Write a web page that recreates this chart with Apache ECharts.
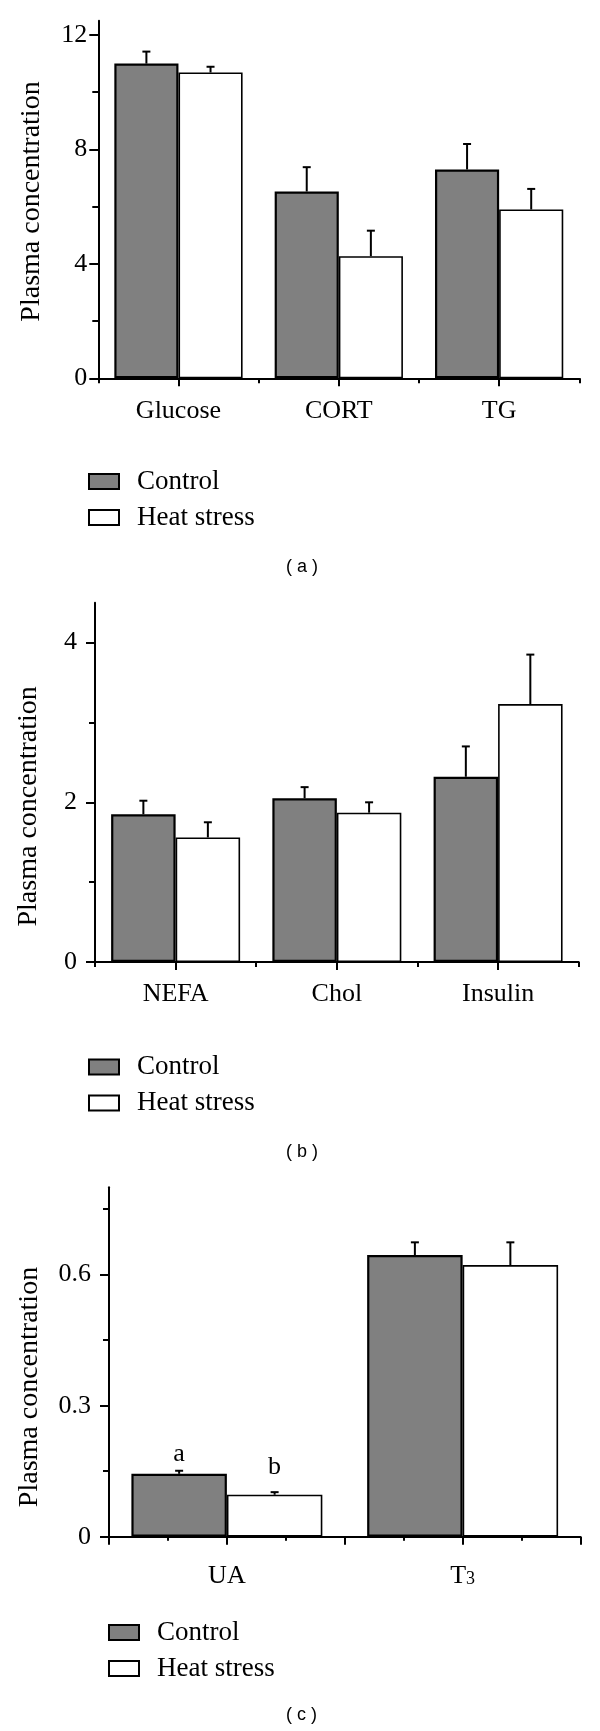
<!DOCTYPE html>
<html>
<head>
<meta charset="utf-8">
<script src="https://cdn.jsdelivr.net/npm/echarts@6/dist/echarts.min.js"></script>
<style>
html,body{margin:0;padding:0;background:#fff;}
#chart{width:600px;height:1731px;}
</style>
</head>
<body>
<div id="chart"></div>
<script>
// ---------- data ----------
const seriesNames = ['Control', 'Heat stress'];

const catsA = ['Glucose', 'CORT', 'TG'];
const controlA = [11.0, 6.53, 7.30];
const controlErrA = [0.42, 0.85, 0.89];
const heatA = [10.69, 4.27, 5.90];
const heatErrA = [0.20, 0.89, 0.72];
const yTicksA = [0, 4, 8, 12];
const yMinorA = [2, 6, 10];

const catsB = ['NEFA', 'Chol', 'Insulin'];
const controlB = [1.85, 2.05, 2.32];
const controlErrB = [0.17, 0.14, 0.38];
const heatB = [1.56, 1.87, 3.23];
const heatErrB = [0.19, 0.13, 0.62];
const yTicksB = [0, 2, 4];
const yMinorB = [1, 3];

const catsC = ['UA', 'T3'];
const controlC = [0.144, 0.645];
const controlErrC = [0.007, 0.029];
const heatC = [0.096, 0.622];
const heatErrC = [0.006, 0.052];
const sigControlC = ['a', ''];
const sigHeatC = ['b', ''];
const yTicksC = [0, 0.3, 0.6];
const yMinorC = [0.15, 0.45, 0.75];

const captions = ['( a )', '( b )', '( c )'];
const yName = 'Plasma concentration';

// ---------- styles ----------
const SERIF = '"Liberation Serif", "DejaVu Serif", serif';
const SANS = '"Liberation Sans", Arial, sans-serif';
const BLACK = '#000';
const GRAY = '#808080';

function yAxes(gi, max, ticks, minor, margin, nameGap, namePad) {
  return [
    {
      type: 'value', gridIndex: gi, min: 0, max: max,
      axisLine: { show: true, lineStyle: { color: BLACK, width: 2 } },
      axisTick: { show: true, length: 9, customValues: ticks, lineStyle: { color: BLACK, width: 2 } },
      axisLabel: { customValues: ticks, margin: margin, fontFamily: SERIF, fontSize: 26, color: BLACK },
      splitLine: { show: false },
      name: yName, nameLocation: 'middle', nameGap: nameGap,
      nameTextStyle: { fontFamily: SERIF, fontSize: 28, color: BLACK, padding: namePad }
    },
    {
      type: 'value', gridIndex: gi, min: 0, max: max, position: 'left',
      axisLine: { show: false },
      axisTick: { show: true, length: 6, customValues: minor, lineStyle: { color: BLACK, width: 2 } },
      axisLabel: { show: false },
      splitLine: { show: false }
    }
  ];
}

function catAxis(gi, cats, margin, fmt) {
  return {
    type: 'category', gridIndex: gi, data: cats, position: 'bottom',
    axisLine: { show: true, lineStyle: { color: BLACK, width: 2 } },
    axisTick: { show: true, alignWithLabel: true, length: 8, lineStyle: { color: BLACK, width: 2 } },
    axisLabel: Object.assign({ margin: margin, fontFamily: SERIF, fontSize: 26, color: BLACK, interval: 0 }, fmt || {}),
    splitLine: { show: false }
  };
}
function boundaryAxis(gi, cats) {
  return {
    type: 'category', gridIndex: gi, data: cats, position: 'bottom',
    axisLine: { show: false },
    axisTick: { show: true, length: 5, lineStyle: { color: BLACK, width: 2 } },
    axisLabel: { show: false },
    splitLine: { show: false }
  };
}

function barSeries(name, xi, yi, vals, gapStr, labels, labelDist) {
  const isCtrl = name === 'Control';
  return {
    type: 'bar', name: name, xAxisIndex: xi, yAxisIndex: yi,
    barGap: '0%', barCategoryGap: gapStr,
    itemStyle: { color: isCtrl ? GRAY : '#fff', borderColor: BLACK, borderWidth: isCtrl ? 2.2 : 1.6 },
    data: vals.map(function (v, i) {
      const item = { value: v };
      if (labels && labels[i]) {
        item.label = { show: true, position: 'top', distance: labelDist[i], formatter: labels[i],
          fontFamily: SERIF, fontSize: 26, color: BLACK };
      }
      return item;
    }),
    silent: true, animation: false
  };
}

function errSeries(xi, yi, means, errs, sign, gapFrac) {
  return {
    type: 'custom', xAxisIndex: xi, yAxisIndex: yi, silent: true, z: 5, animation: false,
    data: means.map(function (m, i) { return [i, m, errs[i]]; }),
    encode: { x: 0, y: 1 },
    renderItem: function (params, api) {
      const c = api.value(0), m = api.value(1), s = api.value(2);
      const p0 = api.coord([c, m]);
      const p1 = api.coord([c, m + s]);
      const band = api.size([1, 0])[0];
      const bw = band * (1 - gapFrac) / 2;
      const x = p0[0] + sign * bw / 2;
      return {
        type: 'group',
        children: [
          { type: 'line', shape: { x1: x, y1: p0[1], x2: x, y2: p1[1] }, style: { stroke: BLACK, lineWidth: 2 } },
          { type: 'line', shape: { x1: x - 4, y1: p1[1], x2: x + 4, y2: p1[1] }, style: { stroke: BLACK, lineWidth: 2 } }
        ]
      };
    }
  };
}

function legendAt(left, top) {
  return {
    orient: 'vertical', left: left, top: top, padding: 0,
    itemWidth: 30, itemHeight: 15, itemGap: 6, selectedMode: false,
    icon: 'rect',
    data: seriesNames,
    itemStyle: { borderColor: BLACK, borderWidth: 2 },
    textStyle: { fontFamily: SERIF, fontSize: 27, color: BLACK, lineHeight: 30, padding: [0, 0, 0, 13] }
  };
}

function caption(text, left, top) {
  return { text: text, left: left, top: top, padding: 0,
    textStyle: { fontFamily: SANS, fontSize: 18, fontWeight: 'normal', color: BLACK, lineHeight: 20 } };
}

const option = {
  backgroundColor: '#fff',
  animation: false,
  title: [caption(captions[0], 286, 557), caption(captions[1], 286, 1142), caption(captions[2], 286, 1705)],
  legend: [legendAt(88, 466.5), legendAt(88, 1052), legendAt(108, 1617.5)],
  grid: [
    { left: 98.3, top: 20.7, width: 481, height: 357.6 },
    { left: 95, top: 602.7, width: 483.7, height: 359.3 },
    { left: 109, top: 1187.3, width: 471.5, height: 349.4 }
  ],
  xAxis: [
    catAxis(0, catsA, 20),
    boundaryAxis(0, catsA),
    catAxis(1, catsB, 19),
    boundaryAxis(1, catsB),
    catAxis(2, catsC, 22, {
      formatter: function (v) { return v === 'T3' ? '{n|T}{s|3}' : '{n|' + v + '}'; },
      rich: {
        n: { fontFamily: SERIF, fontSize: 26, color: BLACK, lineHeight: 30, verticalAlign: 'bottom' },
        s: { fontFamily: SERIF, fontSize: 18, color: BLACK, lineHeight: 18, verticalAlign: 'bottom' }
      }
    }),
    {
      type: 'value', gridIndex: 2, min: 0, max: 4, interval: 1, position: 'bottom',
      axisLine: { show: false },
      axisTick: { show: true, length: 8, lineStyle: { color: BLACK, width: 2 } },
      minorTick: { show: true, splitNumber: 2, length: 4, lineStyle: { color: BLACK, width: 2 } },
      axisLabel: { show: false },
      splitLine: { show: false }
    }
  ],
  yAxis: [].concat(
    yAxes(0, 12.5, yTicksA, yMinorA, 11, 53, [0, 4, 0, 0]),
    yAxes(1, 4.5, yTicksB, yMinorB, 18, 52, [0, 48, 0, 0]),
    yAxes(2, 0.8, yTicksC, yMinorC, 18, 65, [0, 50, 0, 0])
  ),
  series: [
    barSeries(seriesNames[0], 0, 0, controlA, '20%'),
    barSeries(seriesNames[1], 0, 0, heatA, '20%'),
    errSeries(0, 0, controlA, controlErrA, -1, 0.2),
    errSeries(0, 0, heatA, heatErrA, 1, 0.2),

    barSeries(seriesNames[0], 2, 2, controlB, '20%'),
    barSeries(seriesNames[1], 2, 2, heatB, '20%'),
    errSeries(2, 2, controlB, controlErrB, -1, 0.2),
    errSeries(2, 2, heatB, heatErrB, 1, 0.2),

    barSeries(seriesNames[0], 4, 4, controlC, '19%', sigControlC, [7, 0]),
    barSeries(seriesNames[1], 4, 4, heatC, '19%', sigHeatC, [15, 0]),
    errSeries(4, 4, controlC, controlErrC, -1, 0.19),
    errSeries(4, 4, heatC, heatErrC, 1, 0.19)
  ]
};

const chart = echarts.init(document.getElementById('chart'), null, { renderer: 'canvas' });
chart.setOption(option);
</script>
</body>
</html>
